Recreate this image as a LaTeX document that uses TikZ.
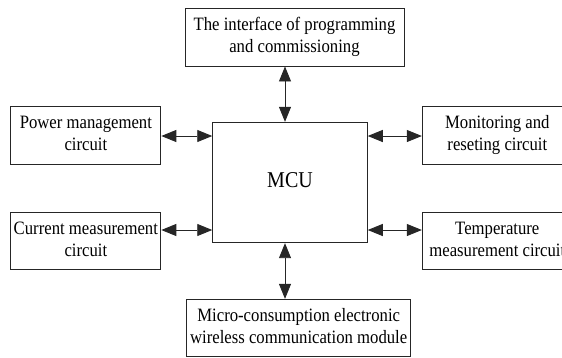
\documentclass[tikz,border=0pt]{standalone}
\usepackage{fontspec}
\usepackage{graphicx}
\setmainfont{Liberation Serif}
\usetikzlibrary{arrows.meta}
% text set in tall, narrow letterforms
\newcommand{\tallrows}[1]{\scalebox{1}[1.13]{\begin{tabular}{@{}c@{}}#1\end{tabular}}}
\begin{document}
\begin{tikzpicture}[x=1pt,y=-1pt,
  blockbox/.style={draw=black!85,line width=0.9pt,rectangle,inner sep=0pt,
    align=center,font=\fontsize{16.7}{19.5}\selectfont},
  sidebox/.style={blockbox,minimum width=150pt,minimum height=57.3pt},
  link/.style={line width=0.9pt,draw=black!85,
    {Triangle[length=15pt,width=12pt]}-{Triangle[length=15pt,width=12pt]}}]
  \useasboundingbox (0,0) rectangle (562,357);
  % central controller
  \node[blockbox,minimum width=154.6pt,minimum height=120.4pt,
        font=\fontsize{20}{24}\selectfont] (mcu) at (290,182.5) {\tallrows{MCU}};
  % peripheral blocks
  \node[blockbox,minimum width=219pt,minimum height=57.7pt] (prog) at (294.5,37.15)
    {\tallrows{The interface of programming\\and commissioning}};
  \node[blockbox,minimum width=224pt,minimum height=57.4pt] (radio) at (298.7,328)
    {\tallrows{Micro-consumption electronic\\wireless communication module}};
  \node[sidebox] (power) at (85.85,135.35) {\tallrows{Power management\\circuit}};
  \node[sidebox] (current) at (85.85,240.65) {\tallrows{Current measurement\\circuit}};
  \node[sidebox] (monitor) at (497.3,135.35) {\tallrows{Monitoring and\\reseting circuit}};
  \node[sidebox] (temp) at (497.3,240.65) {\tallrows{Temperature\\measurement circuit}};
  % connector guide positions
  \coordinate (vx) at (285,0);
  \coordinate (hy1) at (0,136);
  \coordinate (hy2) at (0,230);
  % bidirectional links
  \draw[link] (prog.south -| vx) -- (mcu.north -| vx);
  \draw[link] (mcu.south -| vx) -- (radio.north -| vx);
  \draw[link] (power.east |- hy1) -- (mcu.west |- hy1);
  \draw[link] (current.east |- hy2) -- (mcu.west |- hy2);
  \draw[link] (mcu.east |- hy1) -- (monitor.west |- hy1);
  \draw[link] (mcu.east |- hy2) -- (temp.west |- hy2);
\end{tikzpicture}
\end{document}
